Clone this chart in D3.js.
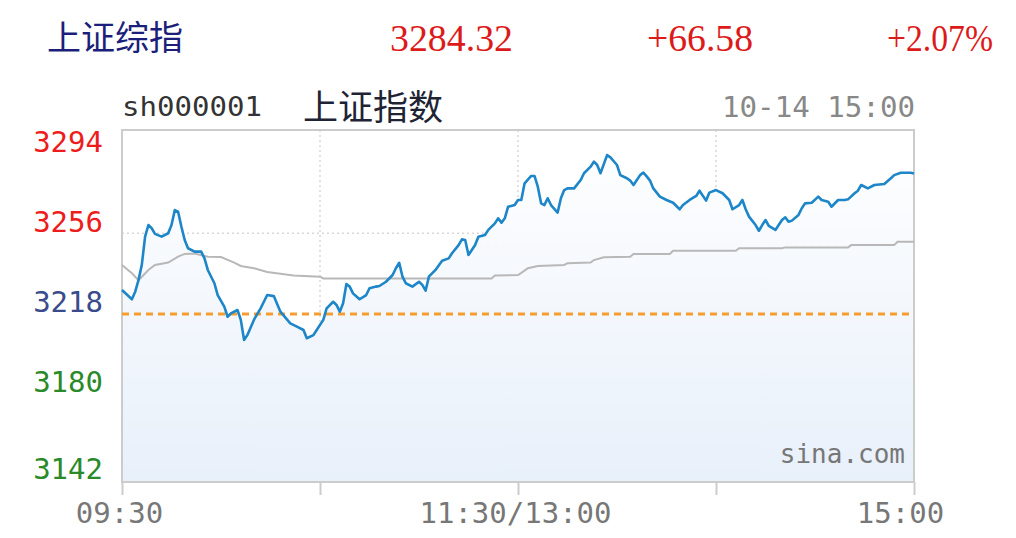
<!DOCTYPE html>
<html><head><meta charset="utf-8">
<script src="https://cdn.jsdelivr.net/npm/d3@7/dist/d3.min.js"></script>
<style>html,body{margin:0;padding:0;background:#fff;}svg{display:block;}</style>
</head><body>
<svg id="chart" width="1016" height="538"></svg>
<script>
// ---- header values ----
const indexName = "上证综指";
const lastPrice = "3284.32";
const change = "+66.58";
const changePct = "+2.07%";
const code = "sh000001";
const chartTitle = "上证指数";
const stamp = "10-14 15:00";
const prevClose = 3217.74;

// ---- axes ----
const yTicks = [3294, 3256, 3218, 3180, 3142];
const yTickColors = ["#ee1c1c", "#ee1c1c", "#3a4b8c", "#2a8a2a", "#2a8a2a"];
const xTickMinutes = [0, 60, 120, 180, 240];
const xTickLabels = ["09:30", "", "11:30/13:00", "", "15:00"];
const gridValues = [3256, 3180];

// ---- price series (trading minute from 09:30, index) ----
const priceMinutes = [0,3,4,5,6,7,8,9,10,12,14,15,16,17,18,19,20,22,24,25,26,28,29,31,32,33,35,36,37,38,40,42,44,46,48,51,53,55,56,58,59,61,62,64,65,66,67,68,69,70,72,74,75,77,78,80,82,83,84,85,86,88,90,91,92,93,95,97,99,100,102,103,104,105,107,108,110,111,113,114,115,116,117,119,120,121,122,124,125,126,127,128,129,130,132,133,134,135,137,139,140,142,143,144,145,147,148,150,151,153,154,155,157,158,159,160,161,163,165,167,169,170,172,174,175,177,178,180,182,184,185,187,188,189,190,192,193,194,195,196,198,199,200,201,202,203,205,206,207,209,211,212,214,215,217,219,220,222,223,224,226,228,231,233,234,236,239,240];
const priceValues = [3229.1,3224.7,3228.3,3233.8,3241.0,3254.4,3259.9,3258.4,3255.7,3254.4,3256.0,3259.9,3267.0,3266.2,3259.1,3252.8,3248.9,3247.3,3247.3,3244.1,3238.6,3232.3,3226.7,3221.2,3216.4,3218.0,3219.6,3214.9,3205.4,3207.7,3215.0,3220.4,3226.7,3226.2,3218.8,3213.3,3211.7,3210.1,3206.2,3207.7,3210.1,3214.9,3220.4,3223.5,3222.0,3218.8,3222.8,3231.9,3230.7,3227.5,3224.7,3226.7,3229.9,3230.7,3231.0,3233.0,3236.2,3239.4,3242.0,3235.4,3232.3,3230.7,3233.0,3231.5,3228.8,3235.4,3238.6,3243.0,3244.1,3246.5,3250.4,3253.1,3252.8,3245.7,3250.4,3254.4,3255.2,3257.6,3260.7,3263.1,3261.0,3263.1,3268.6,3269.4,3271.8,3271.8,3279.7,3283.2,3283.2,3278.1,3270.2,3269.4,3272.6,3269.4,3265.8,3272.6,3276.5,3277.3,3277.3,3281.3,3284.5,3287.6,3290.0,3288.4,3284.5,3293.1,3292.0,3288.4,3283.6,3282.1,3281.0,3278.9,3283.6,3284.8,3283.0,3281.0,3277.3,3273.4,3271.8,3270.5,3267.4,3269.4,3271.8,3273.7,3276.2,3271.5,3275.3,3276.5,3275.0,3271.8,3267.4,3269.4,3271.8,3267.4,3263.9,3259.9,3257.2,3259.9,3262.3,3259.5,3257.6,3259.9,3262.3,3263.6,3261.5,3262.0,3264.7,3267.9,3270.2,3270.5,3273.4,3271.8,3271.0,3268.6,3271.8,3271.8,3272.1,3275.0,3276.2,3278.9,3277.3,3278.9,3279.4,3282.1,3283.6,3284.7,3284.7,3284.32];

// ---- average price series ----
const avgMinutes = [0,3,5,8,10,14,17,19,22,26,30,34,36,40,44,52,60,61,112,113,120,121,123,126,134,135,142,143,146,154,155,166,167,186,187,200,201,220,221,234,235,240];
const avgValues = [3241.0,3237.0,3233.7,3238.6,3241.0,3242.1,3244.9,3246.2,3246.4,3244.9,3244.7,3242.1,3240.5,3239.4,3237.6,3236.0,3235.4,3234.6,3234.6,3236.0,3236.2,3237.2,3239.4,3240.5,3241.0,3241.8,3242.1,3243.3,3244.6,3244.9,3246.2,3246.2,3247.7,3247.7,3248.9,3248.9,3249.3,3249.3,3250.4,3250.4,3252.0,3252.0];

// ---- layout ----
const L = 122, R = 914, T = 130, B = 482;
const svg = d3.select("#chart");
const x = d3.scaleLinear().domain([0, 240]).range([L, R]);
const y = d3.scaleLinear().domain([3138, 3305]).range([B, T]);

const mono = "'DejaVu Sans Mono', 'Liberation Mono', monospace";
const cjk = "'Noto Sans CJK SC', 'Noto Sans', sans-serif";
const serif = "'Liberation Serif', 'DejaVu Serif', serif";

// header
svg.append("text").attr("x", 47).attr("y", 50).attr("fill", "#1b1f7a")
  .style("font-family", cjk).style("font-size", "34px").text(indexName);
[[lastPrice, 390, 123], [change, 647, 106], [changePct, 887, 106]].forEach(([t, px, w]) => {
  svg.append("text").attr("x", px).attr("y", 51).attr("fill", "#dd1a1a")
    .attr("textLength", w).attr("lengthAdjust", "spacingAndGlyphs")
    .style("font-family", serif).style("font-size", "38px").text(t);
});

// chart title row
svg.append("text").attr("x", 122).attr("y", 116).attr("fill", "#333")
  .attr("textLength", 140).attr("lengthAdjust", "spacingAndGlyphs")
  .style("font-family", mono).style("font-size", "27px").text(code);
svg.append("text").attr("x", 303).attr("y", 120).attr("fill", "#1e2433")
  .style("font-family", cjk).style("font-size", "35px").text(chartTitle);
svg.append("text").attr("x", 915).attr("y", 117).attr("fill", "#888").attr("text-anchor", "end")
  .attr("textLength", 193).attr("lengthAdjust", "spacingAndGlyphs")
  .style("font-family", mono).style("font-size", "28px").text(stamp);

// gradient
const defs = svg.append("defs");
const grad = defs.append("linearGradient").attr("id", "fillGrad")
  .attr("gradientUnits", "userSpaceOnUse").attr("x1", 0).attr("x2", 0).attr("y1", T).attr("y2", B);
grad.append("stop").attr("offset", "0%").attr("stop-color", "#ffffff");
grad.append("stop").attr("offset", "100%").attr("stop-color", "#e8f0fa");

// grid lines
const grid = svg.append("g").attr("stroke", "#d8d8d8").attr("stroke-width", 1.5).attr("stroke-dasharray", "2,3");
gridValues.forEach(v => grid.append("line").attr("x1", L).attr("x2", R).attr("y1", y(v)).attr("y2", y(v)));
xTickMinutes.slice(1, -1).forEach(m => grid.append("line").attr("x1", x(m)).attr("x2", x(m)).attr("y1", T).attr("y2", B));

// area under price
const price = priceMinutes.map((m, i) => ({m, v: priceValues[i]}));
const avg = avgMinutes.map((m, i) => ({m, v: avgValues[i]}));
svg.append("path").datum(price).attr("fill", "url(#fillGrad)")
  .attr("d", d3.area().x(d => x(d.m)).y0(B).y1(d => y(d.v)));

// frame
svg.append("rect").attr("x", L).attr("y", T).attr("width", R - L).attr("height", B - T)
  .attr("fill", "none").attr("stroke", "#cccccc").attr("stroke-width", 2);

// x axis ticks and labels
const xAxis = d3.axisBottom(x).tickValues(xTickMinutes).tickSize(13).tickFormat((d, i) => xTickLabels[i]);
const gx = svg.append("g").attr("transform", `translate(0,${B})`).call(xAxis);
gx.select(".domain").remove();
gx.selectAll(".tick line").attr("stroke", "#cccccc").attr("stroke-width", 2);
const xLabelShift = [-3, 0, -3, 0, -14];
gx.selectAll(".tick text").attr("y", 0).attr("dy", 41)
  .attr("dx", (d, i) => xLabelShift[i])
  .attr("fill", "#777").style("font-family", mono).style("font-size", "29px");

// prev close dashed line
svg.append("line").attr("x1", L).attr("x2", R).attr("y1", y(prevClose)).attr("y2", y(prevClose))
  .attr("stroke", "#f59d2e").attr("stroke-width", 3).attr("stroke-dasharray", "7,5");

// average line
svg.append("path").datum(avg).attr("fill", "none").attr("stroke", "#b8b8b8").attr("stroke-width", 2)
  .attr("d", d3.line().x(d => x(d.m)).y(d => y(d.v)));

// price line
svg.append("path").datum(price).attr("fill", "none").attr("stroke", "#1d86c9").attr("stroke-width", 2.6)
  .attr("stroke-linejoin", "round")
  .attr("d", d3.line().x(d => x(d.m)).y(d => y(d.v)));

// y labels
const gy = svg.append("g");
yTicks.forEach((v, i) => {
  const base = i === yTicks.length - 1 ? B - 3.5 : y(v) - 1.5;
  gy.append("text").attr("x", 103).attr("y", base).attr("text-anchor", "end")
    .attr("fill", yTickColors[i]).style("font-family", mono).style("font-size", "29px").text(v);
});

// watermark
svg.append("text").attr("x", 905).attr("y", 463).attr("text-anchor", "end").attr("fill", "#777")
  .style("font-family", mono).style("font-size", "26px").text("sina.com");
</script>
</body></html>
